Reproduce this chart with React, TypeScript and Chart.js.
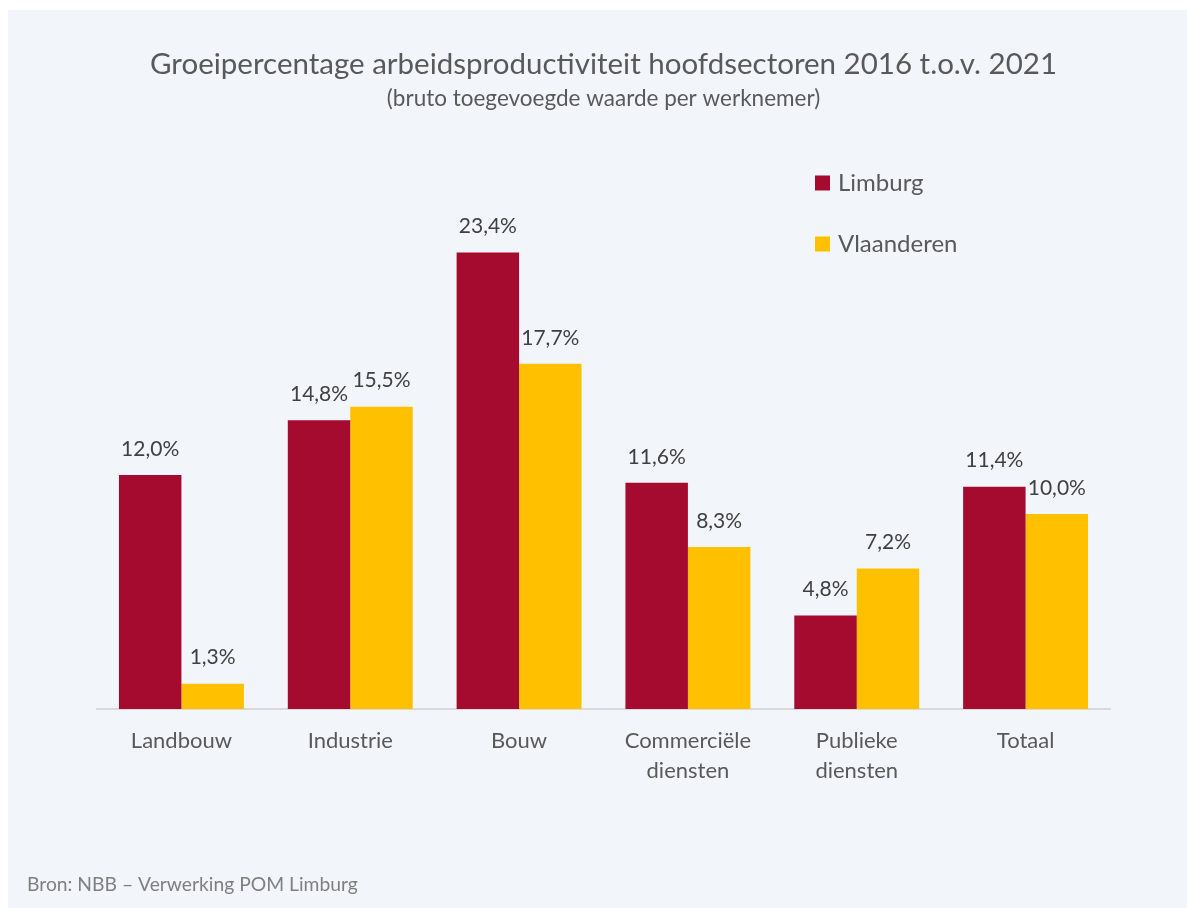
import React, { useEffect, useRef } from "react";
import { Chart, registerables } from "chart.js";

Chart.register(...registerables);

const categories: (string | string[])[] = [
  "Landbouw",
  "Industrie",
  "Bouw",
  ["Commerciële", "diensten"],
  ["Publieke", "diensten"],
  "Totaal",
];
const limburg = [12.0, 14.8, 23.4, 11.6, 4.8, 11.4];
const vlaanderen = [1.3, 15.5, 17.7, 8.3, 7.2, 10.0];
const seriesNames = ["Limburg", "Vlaanderen"];
const seriesColors = ["#A50B2E", "#FFC000"];
const titleText = "Groeipercentage arbeidsproductiviteit hoofdsectoren 2016 t.o.v. 2021";
const subtitleText = "(bruto toegevoegde waarde per werknemer)";
const sourceText = "Bron: NBB – Verwerking POM Limburg";

const FONT = "Lato, 'Open Sans', sans-serif";

const fmt = (v: number) => v.toFixed(1).replace(".", ",") + "%";

const extrasPlugin = {
  id: "extras",
  afterDatasetsDraw(chart: any) {
    const ctx = chart.ctx;
    ctx.save();
    // data labels
    ctx.font = `21px ${FONT}`;
    ctx.fillStyle = "#404040";
    ctx.textAlign = "center";
    ctx.textBaseline = "middle";
    chart.data.datasets.forEach((ds: any, i: number) => {
      const meta = chart.getDatasetMeta(i);
      meta.data.forEach((bar: any, j: number) => {
        ctx.fillText(fmt(ds.data[j]), bar.x, bar.y - 26);
      });
    });
    // legend
    ctx.font = `24px ${FONT}`;
    ctx.textAlign = "left";
    chart.data.datasets.forEach((ds: any, i: number) => {
      const cy = 173 + i * 61;
      ctx.fillStyle = ds.backgroundColor;
      ctx.fillRect(807, cy - 7.5, 15, 15);
      ctx.fillStyle = "#595959";
      ctx.fillText(ds.label, 830, cy);
    });
    // source
    ctx.font = `19.3px ${FONT}`;
    ctx.fillStyle = "#7F7F7F";
    ctx.fillText(sourceText, 19, 875);
    ctx.restore();
  },
};

export default function App() {
  const ref = useRef<HTMLCanvasElement | null>(null);
  useEffect(() => {
    document.body.style.margin = "0";
    document.documentElement.style.overflow = "hidden";
    if (!ref.current) return;
    const chart = new Chart(ref.current, {
      type: "bar",
      data: {
        labels: categories as any,
        datasets: [
          {
            label: seriesNames[0],
            data: limburg,
            backgroundColor: seriesColors[0],
            categoryPercentage: 0.74,
            barPercentage: 1.0,
          },
          {
            label: seriesNames[1],
            data: vlaanderen,
            backgroundColor: seriesColors[1],
            categoryPercentage: 0.74,
            barPercentage: 1.0,
          },
        ],
      },
      options: {
        responsive: false,
        animation: false,
        layout: { padding: { left: 89, right: 77, top: 0, bottom: 0 } },
        plugins: {
          legend: { display: false },
          tooltip: { enabled: false },
          title: {
            display: true,
            text: titleText,
            color: "#595959",
            font: { family: FONT, size: 29.5, weight: "normal" as any, lineHeight: 1.2 },
            padding: { top: 37, bottom: 0 },
          },
          subtitle: {
            display: true,
            text: subtitleText,
            color: "#595959",
            font: { family: FONT, size: 22.5, weight: "normal" as any, lineHeight: 1.0 },
            padding: { top: 5, bottom: 14 },
          },
        },
        scales: {
          x: {
            grid: { display: false, drawTicks: false },
            border: { display: true, color: "#D9D9D9", width: 2 },
            ticks: {
              color: "#595959",
              font: { family: FONT, size: 22, lineHeight: 30 / 22 },
              padding: 17,
              maxRotation: 0,
              autoSkip: false,
            },
            afterFit: (scale: any) => {
              scale.height = 199;
            },
          },
          y: {
            display: false,
            min: 0,
            max: 30,
          },
        },
      },
      plugins: [extrasPlugin],
    });
    return () => chart.destroy();
  }, []);
  return (
    <div style={{ padding: "10px 0 0 8px", width: 1179, height: 898 }}>
      <div style={{ width: 1179, height: 898, background: "#F2F6FA" }}>
        <canvas ref={ref} width={1179} height={898} style={{ display: "block" }} />
      </div>
    </div>
  );
}
